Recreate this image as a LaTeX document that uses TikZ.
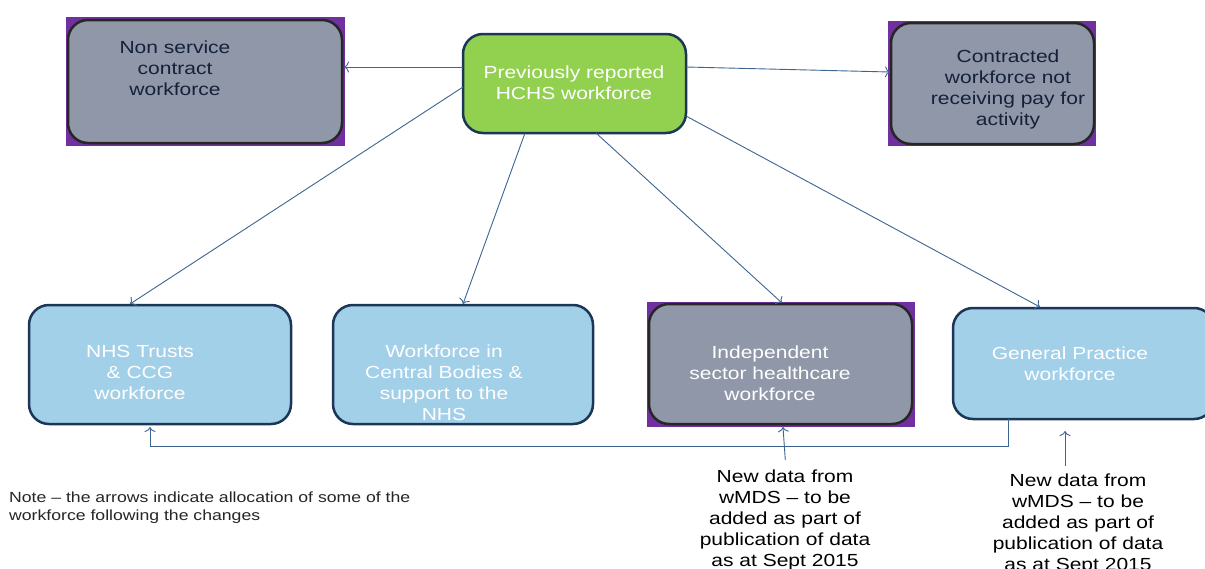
\documentclass[tikz,border=0pt]{standalone}
\usepackage{fontspec}
\setmainfont[FakeStretch=1.2]{Liberation Sans}
\usetikzlibrary{arrows.meta}
\definecolor{purp}{HTML}{7030A0}
\definecolor{grayfill}{HTML}{9097A8}
\definecolor{greenfill}{HTML}{92D050}
\definecolor{bluefill}{HTML}{A2D0E8}
\definecolor{navy}{HTML}{1B3656}
\definecolor{arrcol}{HTML}{3E6591}
\definecolor{darktext}{HTML}{14213A}
\begin{document}
\begin{tikzpicture}[x=1pt,y=-1pt,
  box/.style={rounded corners=20pt, line width=2.5pt, inner sep=0pt, outer sep=0pt},
  graybox/.style={box, draw=black!85, fill=grayfill},
  greenbox/.style={box, draw=navy, fill=greenfill},
  bluebox/.style={box, draw=navy, fill=bluefill},
  boxtext/.style={inner sep=0pt, align=center, anchor=north, font=\fontsize{17.5}{21}\selectfont},
  wtext/.style={boxtext, text=white},
  dtext/.style={boxtext, text=darktext},
  arr/.style={draw=arrcol, line width=0.9pt, -{To[length=5pt,width=11pt]}},
  bg/.style={fill=purp}]
\useasboundingbox (0,0) rectangle (1205,568);
\fill[white] (0,0) rectangle (1205,568);
% purple backgrounds
\fill[bg] (66,17) rectangle (345,146);
\fill[bg] (888,21) rectangle (1096,146);
\fill[bg] (647,302) rectangle (915,427);
% boxes
\node[graybox, minimum width=274pt, minimum height=123pt] (ns) at (205,81.5) {};
\node[greenbox, minimum width=223pt, minimum height=99pt] (g) at (574.5,83.5) {};
\node[graybox, minimum width=203pt, minimum height=121pt] (ct) at (992.5,83.5) {};
\node[bluebox, minimum width=262pt, minimum height=119pt] (nhs) at (160,364.5) {};
\node[bluebox, minimum width=260pt, minimum height=119pt] (cb) at (463,364.5) {};
\node[graybox, minimum width=263pt, minimum height=120pt] (ind) at (780.5,364) {};
\node[bluebox, minimum width=261pt, minimum height=111pt] (gp) at (1083.5,363.5) {};
% texts
\node[dtext] (tns) at (175,41) {Non service\\contract\\workforce};
\node[wtext] (tg) at (574,66) {Previously reported\\HCHS workforce};
\node[dtext] (tct) at (1008,50) {Contracted\\workforce not\\receiving pay for\\activity};
\node[wtext] (tnhs) at (140,345) {NHS Trusts\\\& CCG\\workforce};
\node[wtext] (tcb) at (444,345) {Workforce in\\Central Bodies \&\\support to the\\NHS};
\node[wtext] (tind) at (770,345.5) {Independent\\sector healthcare\\workforce};
\node[wtext] (tgp) at (1070,346.5) {General Practice\\workforce};
\node[dtext, text=black] (nd1) at (785,470) {New data from\\wMDS -- to be\\added as part of\\publication of data\\as at Sept 2015};
\node[dtext, text=black] (nd2) at (1078,473.5) {New data from\\wMDS -- to be\\added as part of\\publication of data\\as at Sept 2015};
\node[inner sep=0pt, anchor=north west, align=left, text=black!85, font=\fontsize{14.7}{18}\selectfont] (note) at (9,492) {Note -- the arrows indicate allocation of some of the\\workforce following the changes};
% connectors
\draw[arr] ([yshift=16.5pt]g.west) -- ([yshift=14.5pt,xshift=2pt]ns.east);
\draw[arr] ([yshift=16.5pt]g.east) -- ([yshift=11.5pt,xshift=-1pt]ct.west);
\draw[arr] ([yshift=-3.5pt]g.west) -- ([xshift=-30pt,yshift=1pt]nhs.north);
\draw[arr] ([xshift=-49.5pt]g.south) -- ([yshift=1pt]cb.north);
\draw[arr] ([xshift=21.5pt]g.south) -- ([xshift=1.5pt,yshift=1pt]ind.north);
\draw[arr] ([yshift=-32.5pt]g.east) -- ([xshift=-43.5pt,yshift=1pt]gp.north);
\draw[arr] ([xshift=-75.5pt]gp.south) -- ++(0,27) -| ([xshift=-10pt,yshift=-3pt]nhs.south);
\draw[arr, shorten <=10pt] ([xshift=1pt]nd1.north) -- ([xshift=2.5pt,yshift=-3pt]ind.south);
\draw[arr, shorten <=8pt, shorten >=12pt] ([xshift=-13pt]nd2.north) -- ([xshift=-18.5pt]gp.south);
\end{tikzpicture}
\end{document}
